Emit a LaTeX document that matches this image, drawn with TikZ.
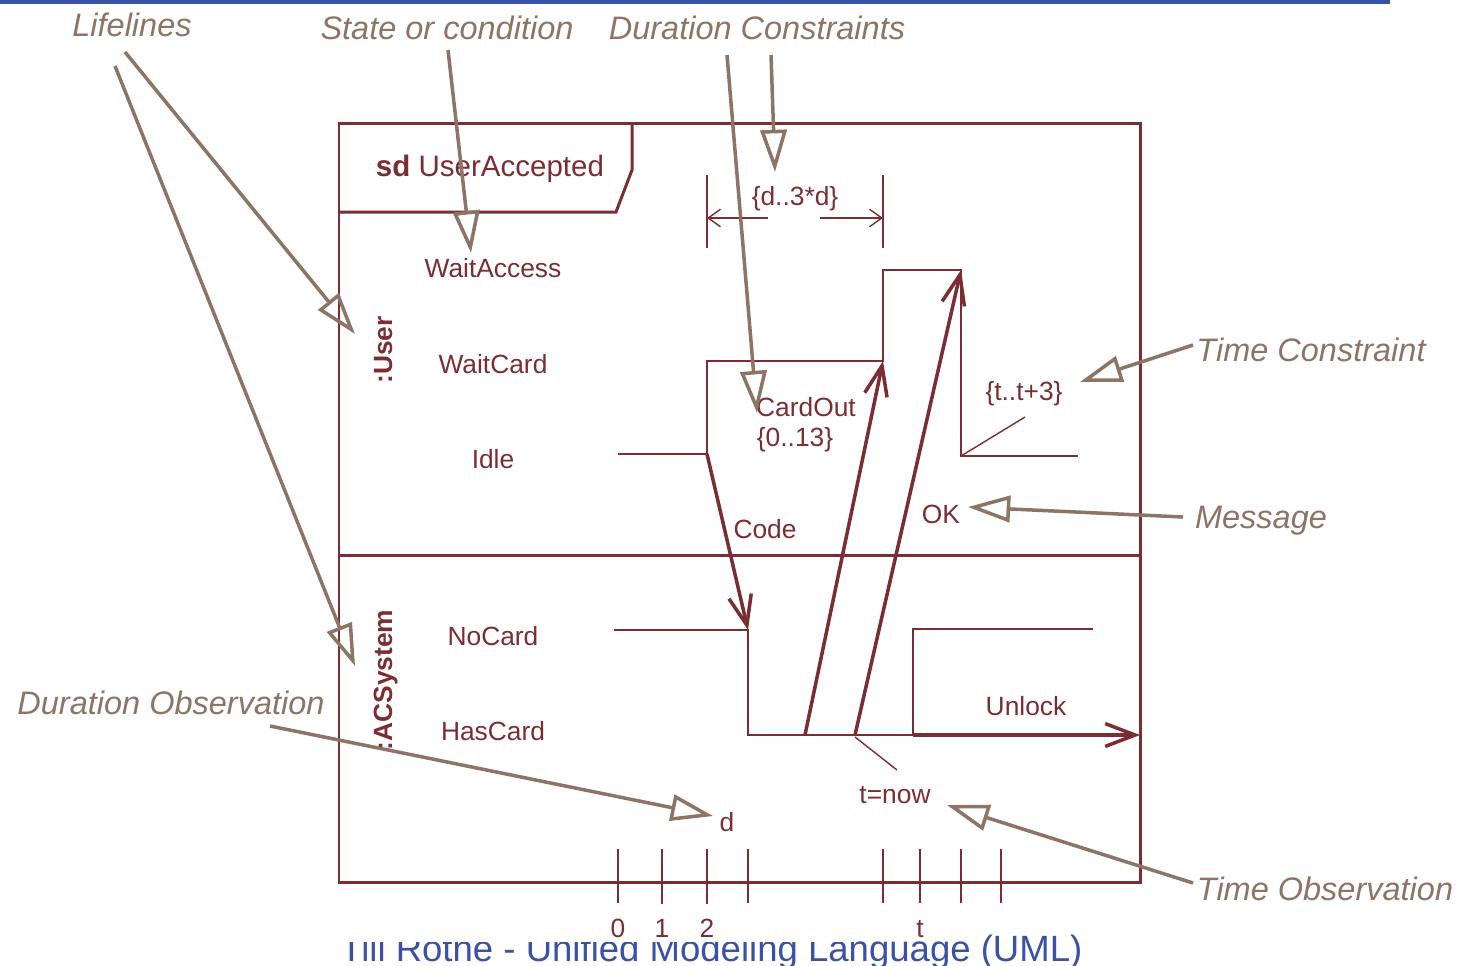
\documentclass[tikz,border=0pt]{standalone}
\usepackage{fontspec}
\setmainfont{Liberation Sans}
\usetikzlibrary{arrows.meta}
\definecolor{uml}{HTML}{7A2E33}
\definecolor{note}{HTML}{8C7466}
\definecolor{slideblue}{HTML}{3A51A6}
\begin{document}
\begin{tikzpicture}[x=0.02cm,y=-0.02cm,
  frameline/.style={draw=uml, line width=1.7pt},
  stateline/.style={draw=uml, line width=0.8pt},
  msg/.style={draw=uml, line width=2pt, -{Straight Barb[length=17pt,width=13pt]}},
  dimarrow/.style={draw=uml, line width=0.8pt, -{Straight Barb[length=7pt,width=10pt]}},
  lbl/.style={text=uml, font=\fontsize{15}{18}\selectfont, anchor=base, inner sep=0pt},
  lifelbl/.style={text=uml, font=\fontsize{15}{18}\selectfont\bfseries, anchor=base, inner sep=0pt, rotate=90},
  notelbl/.style={text=note, font=\fontsize{18.5}{22}\selectfont\itshape, anchor=base, inner sep=0pt},
  notearrow/.style={draw=note, line width=2pt, -{Triangle[open, length=24pt, width=15pt]}},
  tickline/.style={draw=uml, line width=0.8pt},
  bigtick/.style={draw=uml, line width=1.4pt},
]
\useasboundingbox (0,0) rectangle (1457,965);

% slide footer, partly hidden behind the diagram
\node[anchor=base west, inner sep=0pt, text=slideblue, font=\fontsize{20.8}{24}\selectfont]
  (footer) at (340,961) {Till Rothe - Unified Modeling Language (UML)};
\fill[white] (320,895) rectangle (858,942);

% slide header bar
\fill[slideblue] (0,0) rectangle (1390,4);

% frame of the interaction
\draw[frameline] (339,123) rectangle (1140,882);
\draw[frameline] (339,555) -- (1140,555);
\draw[frameline] (339,212) -- (616,212) -- (632,170) -- (632,123);
\node[lbl, font=\fontsize{16.8}{20}\selectfont] (hdr) at (490,176) {\textbf{sd} UserAccepted};

% lifeline names
\node[lifelbl] (user) at (392,350) {:User};
\node[lifelbl] (acs) at (392,680) {:ACSystem};

% states
\node[lbl] (waitaccess) at (493,277) {WaitAccess};
\node[lbl] (waitcard) at (493,373) {WaitCard};
\node[lbl] (idle) at (493,468) {Idle};
\node[lbl] (nocard) at (493,645) {NoCard};
\node[lbl] (hascard) at (493,740) {HasCard};

% state timeline of :User
\draw[stateline] (618,454) -- (707,454) -- (707,361) -- (883,361) -- (883,270)
  -- (961,270) -- (961,456) -- (1078,456);
% state timeline of :ACSystem
\draw[stateline] (614,630) -- (748,630) -- (748,735) -- (913,735) -- (913,629) -- (1093,629);

% key points
\coordinate (codeS) at (707,454);
\coordinate (codeE) at (748,630);
\coordinate (cardS) at (805,735);
\coordinate (cardE) at (883,361);
\coordinate (okS) at (855,735);
\coordinate (okE) at (961,270);
\coordinate (unlS) at (913,735);
\coordinate (unlE) at (1140,735);

% messages
\draw[msg] (codeS) -- (codeE);
\draw[msg] (cardS) -- (cardE);
\draw[msg] (okS) -- (okE);
\draw[msg] (unlS) -- (unlE);
\node[lbl] (code) at (765,538) {Code};
\node[lbl] (cardout) at (806,416) {CardOut};
\node[lbl] (cardrange) at (795,446) {\{0..13\}};
\node[lbl] (ok) at (941,523) {OK};
\node[lbl] (unlock) at (1026,715) {Unlock};

% duration constraint
\coordinate (dcL) at (707,175);
\coordinate (dcLb) at (707,248);
\coordinate (dcR) at (883,175);
\coordinate (dcRb) at (883,248);
\draw[stateline] (dcL) -- (dcLb);
\draw[stateline] (dcR) -- (dcRb);
\coordinate (dcLm) at (768,218);
\coordinate (dcLt) at (707,218);
\coordinate (dcRm) at (820,218);
\coordinate (dcRt) at (883,218);
\draw[dimarrow] (dcLm) -- (dcLt);
\draw[dimarrow] (dcRm) -- (dcRt);
\node[lbl] (dcon) at (795,205) {\{d..3*d\}};

% time constraint
\coordinate (tcA) at (961,456);
\coordinate (tcB) at (1025,417);
\draw[stateline] (tcA) -- (tcB);
\node[lbl] (tcon) at (1024,400) {\{t..t+3\}};

% time observation
\coordinate (toA) at (855,737);
\coordinate (toB) at (897,770);
\draw[stateline] (toA) -- (toB);
\node[lbl] (tnow) at (895,803) {t=now};

% duration observation
\node[lbl] (dobs) at (727,831) {d};

% time axis ticks
\foreach \x in {618,748,883,920,961,1001}
  \draw[tickline] (\x,849) -- (\x,903);
\foreach \x in {662,707}
  \draw[bigtick] (\x,849) -- (\x,904);
\node[lbl] (t0) at (618,937) {0};
\node[lbl] (t1) at (662,937) {1};
\node[lbl] (t2) at (707,937) {2};
\node[lbl] (tt) at (920,937) {t};

% annotations
\node[notelbl] (nLife) at (132,36) {Lifelines};
\node[notelbl] (nState) at (447,39) {State or condition};
\node[notelbl] (nDur) at (757,39) {Duration Constraints};
\node[notelbl] (nTC) at (1311,361) {Time Constraint};
\node[notelbl] (nMsg) at (1261,528) {Message};
\node[notelbl] (nTO) at (1325,900) {Time Observation};
\node[notelbl] (nDO) at (171,714) {Duration Observation};

\coordinate (aLife1) at (125,52);   \coordinate (pUser) at (355,334);
\coordinate (aLife2) at (115,66);   \coordinate (pAcs) at (355,666);
\coordinate (aState) at (448,50);   \coordinate (pState) at (471,253);
\coordinate (aDur1) at (727,55);    \coordinate (pDur1) at (757,413);
\coordinate (aDur2) at (771,55);    \coordinate (pDur2) at (775,172);
\coordinate (aTC) at (1193,345);    \coordinate (pTC) at (1080,382);
\coordinate (aMsg) at (1183,517);   \coordinate (pMsg) at (968,507);
\coordinate (aTO) at (1193,883);    \coordinate (pTO) at (947,805);
\coordinate (aDO) at (270,726);     \coordinate (pDO) at (713,816);

\draw[notearrow] (aLife1) -- (pUser);
\draw[notearrow] (aLife2) -- (pAcs);
\draw[notearrow] (aState) -- (pState);
\draw[notearrow] (aDur1) -- (pDur1);
\draw[notearrow] (aDur2) -- (pDur2);
\draw[notearrow] (aTC) -- (pTC);
\draw[notearrow] (aMsg) -- (pMsg);
\draw[notearrow] (aTO) -- (pTO);
\draw[notearrow] (aDO) -- (pDO);
\end{tikzpicture}
\end{document}
